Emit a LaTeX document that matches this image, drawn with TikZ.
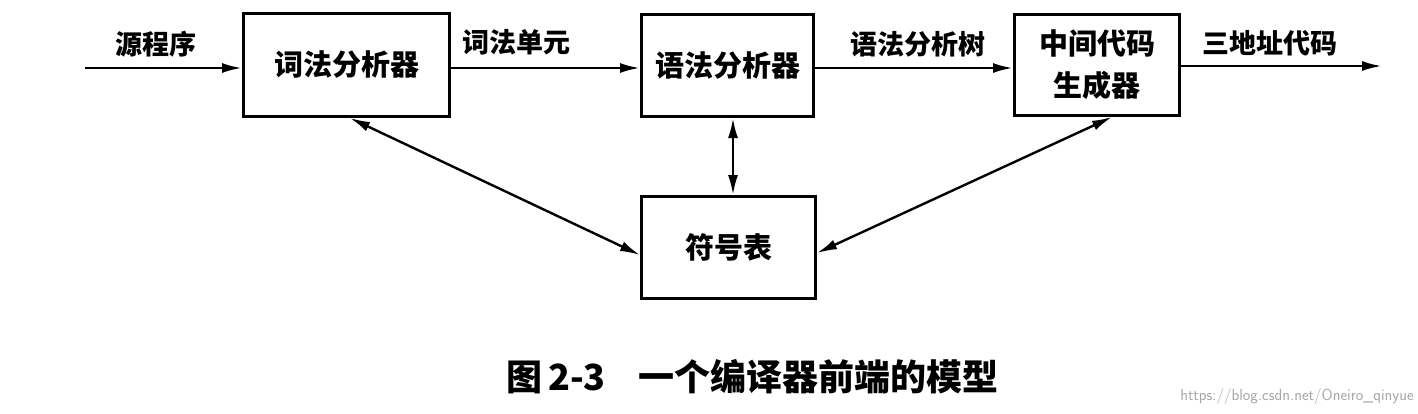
\documentclass[tikz,border=0pt]{standalone}
\usepackage{fontspec}
\newfontfamily\cjk{Noto Sans CJK SC}
\usetikzlibrary{arrows.meta}
\begin{document}
\begin{tikzpicture}[x=1pt,y=-1pt,
  box/.style={draw, line width=3pt, inner sep=0pt, align=center,
    font=\cjk\bfseries\fontsize{29}{42}\selectfont},
  lbl/.style={font=\cjk\bfseries\fontsize{27}{32}\selectfont, inner sep=0pt},
  conn/.style={line width=2.6pt, -{Latex[length=20pt,width=10pt]}},
  dconn/.style={line width=2.4pt, {Latex[length=20pt,width=10pt]}-{Latex[length=20pt,width=10pt]}}]
\useasboundingbox (0,0) rectangle (1418,413);
\fill[white] (0,0) rectangle (1418,413);
% boxes
\node[box, minimum width=206pt, minimum height=103pt] (lex) at (346.5,65) {词法分析器};
\node[box, minimum width=172pt, minimum height=102pt] (syn) at (727.5,65.5) {语法分析器};
\node[box, minimum width=165pt, minimum height=101pt] (gen) at (1097,65) {中间代码\\生成器};
\node[box, minimum width=174pt, minimum height=102pt] (tab) at (728.5,247.5) {符号表};
% free ends
\coordinate (in) at (85,68);
\coordinate (out) at (1382,66);
% horizontal arrows
\draw[conn] (in) -- (lex.west |- in);
\draw[conn] (lex.east |- 0,68) -- (syn.west |- 0,68);
\draw[conn] (syn.east |- 0,68) -- (gen.west |- 0,68);
\draw[conn] (gen.east |- out) -- (out);
% labels
\node[lbl] (l1) at (156,44) {源程序};
\node[lbl] (l2) at (516,42) {词法单元};
\node[lbl] (l3) at (918,44) {语法分析树};
\node[lbl] (l4) at (1270,43) {三地址代码};
% symbol table links
\draw[dconn] (lex.south -| 350,0) -- (tab.west |- 0,255);
\draw[dconn] (syn.south -| 733,0) -- (tab.north -| 733,0);
\draw[dconn] (gen.south -| 1112,0) -- (tab.east |- 0,253);
% caption
\node[font=\cjk\bfseries\fontsize{36}{42}\selectfont, anchor=west, inner sep=0pt] (cap) at (506,377) {图\,2-3\hspace{0.9em}一个编译器前端的模型};
\node[font=\sffamily\fontsize{16}{18}\selectfont, text=black!35, anchor=east, inner sep=0pt] (wm) at (1414,396) {https://blog.csdn.net/Oneiro\_qinyue};
\end{tikzpicture}
\end{document}
